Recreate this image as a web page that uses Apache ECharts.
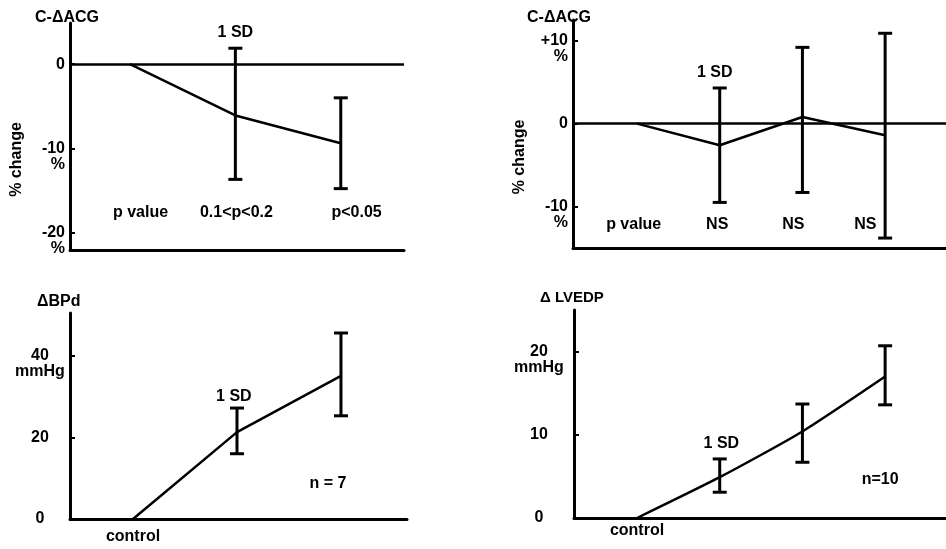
<!DOCTYPE html>
<html>
<head>
    <meta charset="utf-8">
    <title>ACG / BPd / LVEDP</title>
    <script src="https://cdn.jsdelivr.net/npm/echarts@6/dist/echarts.min.js"></script>
</head>
<style>
    *{
        margin: 0;
        padding: 0;
    }
    #chart{
        width: 946px;
        height: 549px;
        background: #fff;
    }
</style>
<body>
<div id="chart"></div>
<script>
    // panel A: C-ΔACG, % change (top left)
    const stepsA = [0, 1, 2];
    const meanA = [0, -6.1, -9.4];
    const errXA = [1, 2];
    const lowA = [-13.7, -14.8];
    const highA = [1.9, -4.0];
    const ticksA = [0, -10, -20];
    const noteTextA = ['p value', '0.1<p<0.2', 'p<0.05', '1 SD'];
    const noteXA = [0.1, 1.01, 2.15, 1.0];
    const noteYA = [-17.6, -17.6, -17.6, 3.7];

    // panel B: C-ΔACG, % change (top right)
    const stepsB = [0, 1, 2, 3];
    const meanB = [0, -2.6, 0.8, -1.4];
    const errXB = [1, 2, 3];
    const lowB = [-9.5, -8.3, -13.8];
    const highB = [4.3, 9.2, 10.9];
    const ticksB = [10, 0, -10];
    const noteTextB = ['p value', 'NS', 'NS', 'NS', '1 SD'];
    const noteXB = [-0.04, 0.97, 1.89, 2.76, 0.94];
    const noteYB = [-12.2, -12.2, -12.2, -12.2, 6.2];

    // panel C: ΔBPd, mmHg (bottom left)
    const stepsC = [0, 1, 2];
    const meanC = [0, 21.3, 35.1];
    const errXC = [1, 2];
    const lowC = [16.0, 25.3];
    const highC = [27.2, 45.6];
    const ticksC = [0, 20, 40];
    const noteTextC = ['1 SD', 'n = 7'];
    const noteXC = [0.97, 1.875];
    const noteYC = [29.9, 8.8];

    // panel D: Δ LVEDP, mmHg (bottom right)
    const stepsD = [0, 1, 2, 3];
    const meanD = [0, 4.9, 10.4, 17.0];
    const errXD = [1, 2, 3];
    const lowD = [3.1, 6.7, 13.6];
    const highD = [7.1, 13.7, 20.7];
    const ticksD = [0, 10, 20];
    const noteTextD = ['1 SD', 'n=10'];
    const noteXD = [1.02, 2.94];
    const noteYD = [9.0, 4.6];

    const FONT = 'Liberation Sans';
    const txt = {color: '#000', fontFamily: FONT, fontWeight: 'bold', fontSize: 16};

    let chart = echarts.init(document.getElementById('chart'));

    function errorBar(params, api) {
        let x = api.value(0);
        let lo = api.coord([x, api.value(1)]);
        let hi = api.coord([x, api.value(2)]);
        let w = 7;
        let style = {stroke: '#000', lineWidth: 3};
        return {
            type: 'group',
            children: [
                {type: 'line', shape: {x1: lo[0], y1: lo[1], x2: hi[0], y2: hi[1]}, style},
                {type: 'line', shape: {x1: lo[0] - w, y1: lo[1], x2: lo[0] + w, y2: lo[1]}, style},
                {type: 'line', shape: {x1: hi[0] - w, y1: hi[1], x2: hi[0] + w, y2: hi[1]}, style}
            ]
        };
    }

    function notes(texts) {
        return function (params, api) {
            let p = api.coord([api.value(0), api.value(1)]);
            return {
                type: 'text', x: p[0], y: p[1],
                style: {text: texts[params.dataIndex], align: 'center', verticalAlign: 'middle',
                    fill: '#000', font: 'bold 16px "' + FONT + '"'}
            };
        };
    }

    let grids = [], xAxes = [], yAxes = [], series = [];

    function panel(i, cfg) {
        grids.push(cfg.grid);
        xAxes.push({
            gridIndex: i, type: 'value', min: cfg.xmin, max: cfg.xmax,
            axisLine: {show: true, onZero: false, lineStyle: {color: '#000', width: 3}},
            axisTick: {show: false},
            splitLine: {show: false},
            axisLabel: cfg.control ? Object.assign({
                customValues: [0], formatter: () => 'control', margin: cfg.control
            }, txt) : {show: false}
        });
        yAxes.push({
            gridIndex: i, type: 'value', min: cfg.ymin, max: cfg.ymax,
            name: cfg.yname || '',
            nameLocation: 'middle',
            nameGap: 45,
            nameTextStyle: Object.assign({padding: [0, 46, 0, 0]}, txt),
            axisLine: {show: true, onZero: false, lineStyle: {color: '#000', width: 3}},
            axisTick: {show: true, inside: true, length: 5, customValues: cfg.ticks, lineStyle: {color: '#000', width: 2}},
            splitLine: {show: false},
            axisLabel: Object.assign({
                customValues: cfg.ticks,
                formatter: cfg.fmt,
                margin: cfg.margin,
                align: cfg.align,
                lineHeight: 16
            }, txt)
        });
        let line = {
            type: 'line', xAxisIndex: i, yAxisIndex: i,
            data: cfg.steps.map((s, k) => [s, cfg.mean[k]]),
            symbol: 'none', smooth: cfg.smooth || false,
            lineStyle: {color: '#000', width: 2.5},
            silent: true
        };
        if (cfg.zero) {
            line.markLine = {
                silent: true, symbol: 'none', label: {show: false},
                lineStyle: {color: '#000', width: 2.5, type: 'solid'},
                data: [{yAxis: 0}]
            };
        }
        series.push(line);
        series.push({
            type: 'custom', xAxisIndex: i, yAxisIndex: i,
            renderItem: errorBar,
            encode: {x: 0, y: [1, 2]},
            data: cfg.errX.map((x, k) => [x, cfg.low[k], cfg.high[k]])
        });
        series.push({
            type: 'custom', xAxisIndex: i, yAxisIndex: i,
            renderItem: notes(cfg.noteText),
            encode: {x: 0, y: 1},
            data: cfg.noteX.map((x, k) => [x, cfg.noteY[k]])
        });
    }

    panel(0, {
        grid: {left: 70, top: 23, width: 334, height: 227},
        xmin: -0.569, xmax: 2.6, ymin: -22.1, ymax: 4.9,
        steps: stepsA, mean: meanA, errX: errXA, low: lowA, high: highA,
        ticks: ticksA, margin: 5, align: 'right', zero: true, yname: '% change',
        fmt: v => v === 0 ? '0' : ' \n' + v + '\n%',
        noteText: noteTextA, noteX: noteXA, noteY: noteYA
    });
    panel(1, {
        grid: {left: 573, top: 20, right: 0, height: 228},
        xmin: -0.774, xmax: 3.736, ymin: -15, ymax: 12.5,
        steps: stepsB, mean: meanB, errX: errXB, low: lowB, high: highB,
        ticks: ticksB, margin: 5, align: 'right', zero: true, yname: '% change',
        fmt: v => v === 0 ? '0' : ' \n' + (v > 0 ? '+' + v : v) + '\n%',
        noteText: noteTextB, noteX: noteXB, noteY: noteYB
    });
    panel(2, {
        grid: {left: 70, top: 313, width: 337, height: 206},
        xmin: -0.606, xmax: 2.635, ymin: 0, ymax: 50.5,
        steps: stepsC, mean: meanC, errX: errXC, low: lowC, high: highC,
        ticks: ticksC, margin: 30, align: 'center', control: 10,
        fmt: v => v === 40 ? ' \n40\nmmHg' : String(v),
        noteText: noteTextC, noteX: noteXC, noteY: noteYC
    });
    panel(3, {
        grid: {left: 574, top: 310, right: 0, height: 208},
        xmin: -0.762, xmax: 3.736, ymin: 0, ymax: 25,
        steps: stepsD, mean: meanD, errX: errXD, low: lowD, high: highD,
        ticks: ticksD, margin: 35, align: 'center', control: 5, smooth: 0.2,
        fmt: v => v === 20 ? ' \n20\nmmHg' : String(v),
        noteText: noteTextD, noteX: noteXD, noteY: noteYD
    });

    let titleStyle = {color: '#000', fontFamily: FONT, fontWeight: 'bold', fontSize: 16};
    let option = {
        backgroundColor: '#fff',
        animation: false,
        title: [
            {text: 'C-ΔACG', left: 35, top: 10, padding: 0, textStyle: titleStyle},
            {text: 'C-ΔACG', left: 527, top: 10, padding: 0, textStyle: titleStyle},
            {text: 'ΔBPd', left: 37, top: 294, padding: 0, textStyle: titleStyle},
            {text: 'Δ LVEDP', left: 540, top: 290, padding: 0, textStyle: Object.assign({}, titleStyle, {fontSize: 15})}
        ],
        grid: grids,
        xAxis: xAxes,
        yAxis: yAxes,
        series
    };
    chart.setOption(option);
</script>
</body>
</html>
